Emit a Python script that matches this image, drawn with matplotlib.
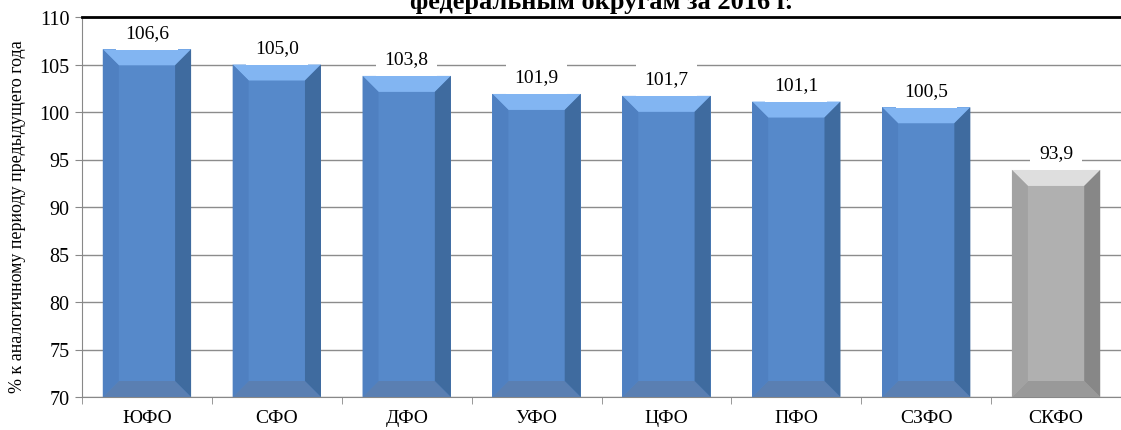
import matplotlib.pyplot as plt
from matplotlib.patches import Polygon

regions = ['ЮФО', 'СФО', 'ДФО', 'УФО', 'ЦФО', 'ПФО', 'СЗФО', 'СКФО']
values = [106.6, 105.0, 103.8, 101.9, 101.7, 101.1, 100.5, 93.9]
labels = ['106,6', '105,0', '103,8', '101,9', '101,7', '101,1', '100,5', '93,9']

blue = dict(front='#5689CA', top='#82B5F2', left='#4F80C1', right='#3F6B9F', bottom='#5A7FB2')
gray = dict(front='#B0B0B0', top='#DEDEDE', left='#A2A2A2', right='#878787', bottom='#999999')

plt.rcParams['font.family'] = ['Liberation Serif', 'DejaVu Serif']

W, H = 1121, 431
fig = plt.figure(figsize=(W / 100, H / 100), dpi=100)
ax = fig.add_axes([82 / W, 1 - 398 / H, 1 - 82 / W, (398 - 18) / H])

ymin, ymax = 70, 110
ax.set_ylim(ymin, ymax)
ax.set_xlim(-0.5, len(regions) - 0.5)

# pixel -> data conversions for the bevels
px_x = (len(regions)) / (W - 82)
px_y = (ymax - ymin) / (398 - 18)
bw = 0.68
dx = 16 * px_x
dy = 16 * px_y

for i, v in enumerate(values):
    c = gray if regions[i] == 'СКФО' else blue
    x0, x1 = i - bw / 2, i + bw / 2
    ax.bar(i, v - ymin, bottom=ymin, width=bw, color=c['front'], zorder=2)
    ax.add_patch(Polygon([(x0, v), (x1, v), (x1 - dx, v - dy), (x0 + dx, v - dy)],
                         closed=True, facecolor=c['top'], edgecolor='none', zorder=3))
    ax.add_patch(Polygon([(x0, ymin), (x1, ymin), (x1 - dx, ymin + dy), (x0 + dx, ymin + dy)],
                         closed=True, facecolor=c['bottom'], edgecolor='none', zorder=3))
    ax.add_patch(Polygon([(x0, v), (x0 + dx, v - dy), (x0 + dx, ymin + dy), (x0, ymin)],
                         closed=True, facecolor=c['left'], edgecolor='none', zorder=3))
    ax.add_patch(Polygon([(x1, v), (x1 - dx, v - dy), (x1 - dx, ymin + dy), (x1, ymin)],
                         closed=True, facecolor=c['right'], edgecolor='none', zorder=3))
    ax.text(i, v + 17 * px_y, labels[i], ha='center', va='center', fontsize=14, zorder=4,
            bbox=dict(boxstyle='square,pad=0.45', facecolor='white', edgecolor='none'))

ax.set_yticks(range(70, 111, 5))
ax.tick_params(axis='y', labelsize=14.5, length=5, color='#888888', direction='out', pad=4)
ax.set_xticks(range(len(regions)))
ax.set_xticklabels(regions, fontsize=14)
ax.tick_params(axis='x', length=0, pad=9)
ax.set_xticks([i + 0.5 for i in range(-1, len(regions))], minor=True)
ax.tick_params(axis='x', which='minor', length=5, color='#888888', direction='out')

ax.yaxis.grid(True, color='#8C8C8C', linewidth=1)
ax.set_axisbelow(True)
for s in ['left', 'bottom']:
    ax.spines[s].set_color('#888888')
ax.spines['right'].set_visible(False)
ax.spines['top'].set_color('black')
ax.spines['top'].set_linewidth(2)
ax.spines['top'].set_zorder(5)

ax.set_ylabel('% к аналогичному периоду предыдущего года', fontsize=13)
ax.yaxis.set_label_coords(-56 / (W - 82), 0.476)

fig.text((82 + W) / 2 / W, 1 - 9 / H, 'федеральным округам за 2016 г.', ha='center',
         va='baseline', fontsize=19, fontweight='bold')

fig.savefig('out.png', dpi=100)
